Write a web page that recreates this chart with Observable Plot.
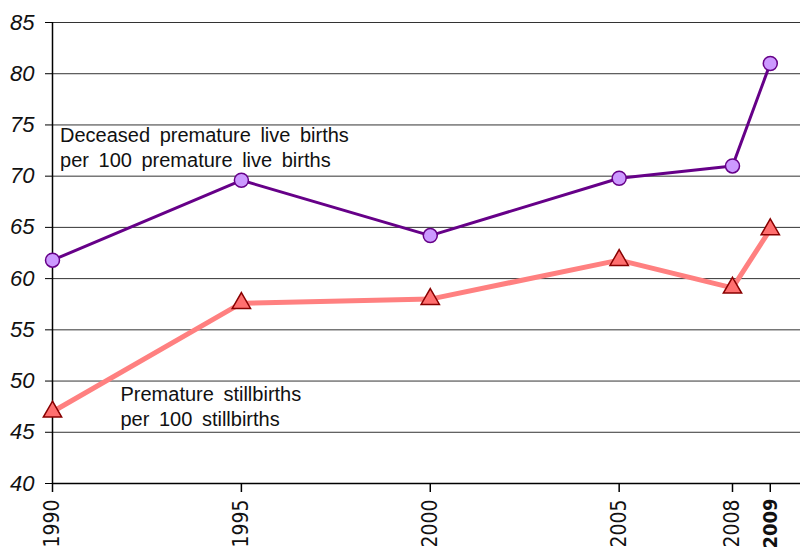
<!DOCTYPE html>
<html>
<head>
<meta charset="utf-8">
<script src="https://cdn.jsdelivr.net/npm/d3@7"></script>
<script src="https://cdn.jsdelivr.net/npm/@observablehq/plot@0.6"></script>
<style>
body { margin: 0; background: #fff; }
svg { font-family: "Liberation Sans", Arial, sans-serif; }
.xlab text { font-family: "Liberation Sans Narrow", "Arial Narrow", "DejaVu Sans Condensed", sans-serif; }
.note text { word-spacing: 4px; }
</style>
</head>
<body>
<div id="chart"></div>
<script>
const years = [1990, 1995, 2000, 2005, 2008, 2009];
const deceasedLiveBirths = [61.8, 69.6, 64.2, 69.8, 71.0, 81.0];
const prematureStillbirths = [47.0, 57.6, 58.0, 61.8, 59.1, 64.8];
const yTicks = [40, 45, 50, 55, 60, 65, 70, 75, 80, 85];
const xTicksRegular = [1990, 1995, 2000, 2005, 2008];
const xTicksBold = [2009];
const labelTexts = ["Deceased premature live births\nper 100 premature live births", "Premature stillbirths\nper 100 stillbirths"];
const labelX = [1990.2, 1991.8];
const labelY = [75.1, 49.8];

const purple = years.map((x, i) => ({x, y: deceasedLiveBirths[i]}));
const red = years.map((x, i) => ({x, y: prematureStillbirths[i]}));
const labels = labelTexts.map((t, i) => ({t, x: labelX[i], y: labelY[i]}));

const chart = Plot.plot({
  width: 801,
  height: 549,
  marginLeft: 52,
  marginTop: 22,
  marginBottom: 66,
  marginRight: 1,
  x: {domain: [1990, 2009.8]},
  y: {domain: [40, 85]},
  marks: [
    Plot.gridY(yTicks, {stroke: "#333", strokeOpacity: 1, strokeWidth: 1}),
    Plot.axisY(yTicks, {tickSize: 7, tickPadding: 11, fontSize: 22, fontStyle: "italic", fill: "#111", label: null, stroke: "#000"}),
    Plot.ruleY([40], {stroke: "#000", strokeWidth: 1.5}),
    Plot.ruleX([1990], {stroke: "#000", strokeWidth: 1.5}),
    Plot.axisX(xTicksRegular, {className: "xlab", tickSize: 9, tickPadding: 7, tickRotate: -90, fontSize: 21, fill: "#111", label: null, tickFormat: d => String(d), strokeWidth: 1.5}),
    Plot.axisX(xTicksBold, {className: "xlab", tickSize: 9, tickPadding: 6, tickRotate: -90, fontSize: 20, fontWeight: "bold", fill: "#111", label: null, tickFormat: d => String(d), strokeWidth: 1.5}),
    Plot.line(purple, {x: "x", y: "y", stroke: "#660088", strokeWidth: 3}),
    Plot.line(red, {x: "x", y: "y", stroke: "#ff8080", strokeWidth: 5}),
    Plot.dot(purple, {x: "x", y: "y", r: 7, fill: "#cc99ff", stroke: "#660088", strokeWidth: 1.5}),
    Plot.dot(red, {x: "x", y: "y", r: 6.8, symbol: "triangle", fill: "#ff6f6f", stroke: "#880000", strokeWidth: 1.5}),
    Plot.text(labels, {className: "note", x: "x", y: "y", text: "t", textAnchor: "start", lineAnchor: "top", fontSize: 20, fill: "#111", lineHeight: 1.25})
  ]
});
document.getElementById("chart").appendChild(chart);
</script>
</body>
</html>
